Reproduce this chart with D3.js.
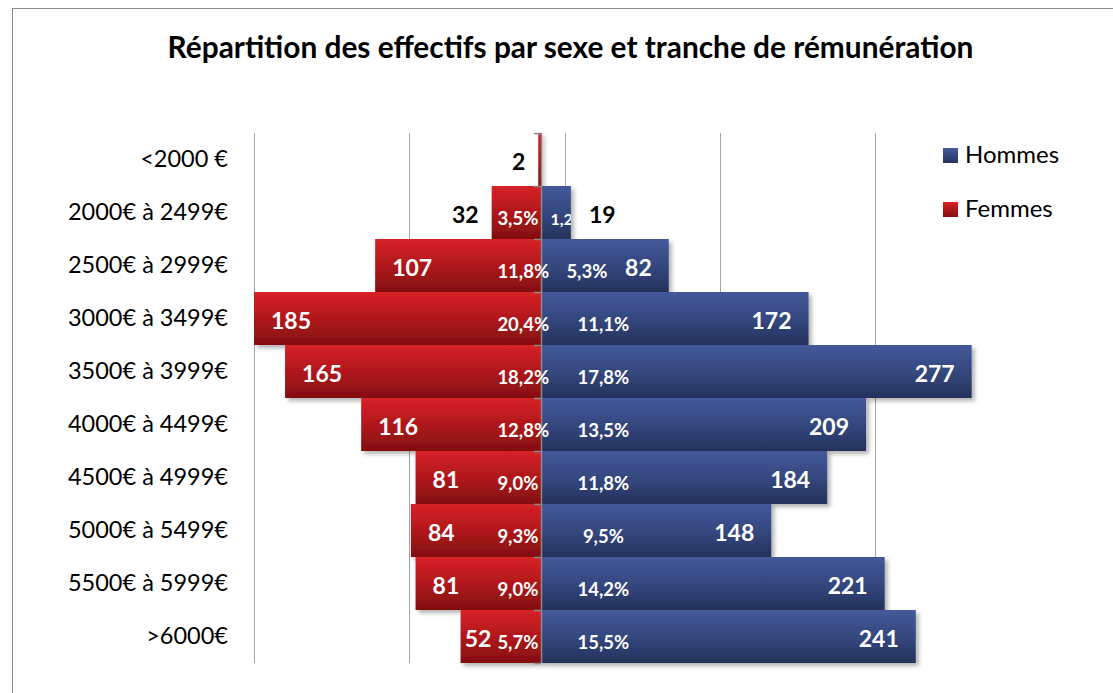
<!DOCTYPE html>
<html>
<head>
<meta charset="utf-8">
<script src="https://cdn.jsdelivr.net/npm/d3@7"></script>
<style>
  html, body { margin: 0; padding: 0; background: #fff; }
  svg { display: block; font-family: Lato, "Open Sans", sans-serif; }
</style>
</head>
<body>
<svg id="chart" width="1113" height="693"></svg>
<script>
const title = "Répartition des effectifs par sexe et tranche de rémunération";
const categories = ["<2000 €","2000€ à 2499€","2500€ à 2999€","3000€ à 3499€","3500€ à 3999€","4000€ à 4499€","4500€ à 4999€","5000€ à 5499€","5500€ à 5999€",">6000€"];
const hommes = [0, 19, 82, 172, 277, 209, 184, 148, 221, 241];
const femmes = [2, 32, 107, 185, 165, 116, 81, 84, 81, 52];
const hommesPct = [null, "1,2%", "5,3%", "11,1%", "17,8%", "13,5%", "11,8%", "9,5%", "14,2%", "15,5%"];
const femmesPct = [null, "3,5%", "11,8%", "20,4%", "18,2%", "12,8%", "9,0%", "9,3%", "9,0%", "5,7%"];
const gridTicks = [-185, -85, 15, 115, 215];
const seriesNames = ["Hommes", "Femmes"];

const svg = d3.select("#chart");
const defs = svg.append("defs");

function grad(id, stops) {
  const g = defs.append("linearGradient").attr("id", id)
    .attr("x1", 0).attr("y1", 0).attr("x2", 0).attr("y2", 1);
  stops.forEach(s => g.append("stop").attr("offset", s[0]).attr("stop-color", s[1]));
}
grad("gBlue", [[0, "#43599a"], [0.5, "#34487f"], [1, "#25325b"]]);
grad("gRed", [[0, "#d72127"], [0.5, "#b0181c"], [1, "#820f10"]]);
const f = defs.append("filter").attr("id", "shadow").attr("x", "-10%").attr("y", "-20%").attr("width", "130%").attr("height", "160%");
f.append("feDropShadow").attr("dx", 3).attr("dy", 3).attr("stdDeviation", 2)
  .attr("flood-color", "#000").attr("flood-opacity", 0.3);

// outer frame
svg.append("rect").attr("x", 12.5).attr("y", 8.5).attr("width", 1120).attr("height", 700)
  .attr("fill", "none").attr("stroke", "#8c8c8c").attr("stroke-width", 1);

// title
const t = svg.append("text").attr("x", 570.5).attr("y", 58)
  .attr("text-anchor", "middle").attr("font-weight", "bold").attr("font-size", 28)
  .attr("fill", "#000").text(title);
const tw = t.node().getComputedTextLength();
t.attr("font-size", 28 * 806 / tw);

const x = d3.scaleLinear().domain([-185, 300]).range([254, 1007.4]);
const y = d3.scaleBand().domain(categories).range([133, 663]).padding(0);
const x0 = x(0);

// gridlines
svg.append("g").selectAll("line").data(gridTicks).join("line")
  .attr("x1", d => Math.round(x(d)) + 0.5).attr("x2", d => Math.round(x(d)) + 0.5)
  .attr("y1", y.range()[0]).attr("y2", y.range()[1])
  .attr("stroke", "#a6a6a6").attr("stroke-width", 1);

const rows = categories.map((c, i) => ({c, i, h: hommes[i], f: femmes[i], hp: hommesPct[i], fp: femmesPct[i]}));

// bars
svg.append("g").attr("filter", "url(#shadow)").selectAll("rect").data(rows.filter(d => d.f > 0)).join("rect")
  .attr("x", d => x(-d.f)).attr("width", d => x0 - x(-d.f))
  .attr("y", d => y(d.c)).attr("height", y.bandwidth())
  .attr("fill", "url(#gRed)");
svg.append("g").attr("filter", "url(#shadow)").selectAll("rect").data(rows.filter(d => d.h > 0)).join("rect")
  .attr("x", x0).attr("width", d => x(d.h) - x0)
  .attr("y", d => y(d.c)).attr("height", y.bandwidth())
  .attr("fill", "url(#gBlue)");

// central axis with ticks at band boundaries
const ax = svg.append("g");
ax.append("line").attr("x1", Math.round(x0) + 0.5).attr("x2", Math.round(x0) + 0.5)
  .attr("y1", y.range()[0]).attr("y2", y.range()[1]).attr("stroke", "#8a8a8a").attr("stroke-width", 1.5);
const bounds = categories.map(c => y(c)).concat([y.range()[1]]);
ax.selectAll("line.tk").data(bounds).join("line").attr("class", "tk")
  .attr("x1", Math.round(x0) - 7).attr("x2", Math.round(x0))
  .attr("y1", d => d + 0.5).attr("y2", d => d + 0.5)
  .attr("stroke", "#8a8a8a").attr("stroke-width", 1.5);

// category labels
const yAxis = svg.append("g").attr("transform", "translate(228,0)")
  .call(d3.axisLeft(y).tickSize(0).tickPadding(0));
yAxis.select(".domain").remove();
yAxis.selectAll("text").attr("font-family", "Lato, sans-serif").attr("font-size", 23.5).attr("fill", "#000");

// clip for hommes percent labels
const cp = defs.append("clipPath").attr("id", "clipH");
cp.selectAll("rect").data(rows.filter(d => d.h > 0)).join("rect")
  .attr("x", x0).attr("width", d => x(d.h) - x0)
  .attr("y", d => y(d.c)).attr("height", y.bandwidth());

const mid = d => y(d.c) + y.bandwidth() / 2;
const INSIDE = 40;
const PCT_LEFT = x0 - 44;

// percent labels femmes
svg.append("g").selectAll("text").data(rows.filter(d => d.fp)).join("text")
  .attr("x", PCT_LEFT).attr("text-anchor", "start")
  .attr("y", d => mid(d) + 12)
  .attr("font-weight", "bold").attr("font-size", 18.5).attr("fill", "#fff")
  .text(d => d.fp);

// value labels femmes
svg.append("g").selectAll("text").data(rows.filter(d => d.f > 0)).join("text")
  .attr("text-anchor", d => d.f >= INSIDE ? "start" : "end")
  .attr("y", d => mid(d) + 10)
  .attr("font-weight", "bold").attr("font-size", 23)
  .attr("fill", d => d.f >= INSIDE ? "#fff" : "#000")
  .text(d => d.f)
  .attr("x", function(d) {
    if (d.f < INSIDE) return x(-d.f) - 13;
    const w = this.getComputedTextLength();
    let p = x(-d.f) + 17;
    if (p + w > PCT_LEFT - 6) p = Math.max(x(-d.f) + 3, PCT_LEFT - 6 - w);
    return p;
  });

// value labels hommes
svg.append("g").selectAll("text").data(rows.filter(d => d.h > 0)).join("text")
  .attr("x", d => d.h >= INSIDE ? x(d.h) - 17 : x(d.h) + 18)
  .attr("text-anchor", d => d.h >= INSIDE ? "end" : "start")
  .attr("y", d => mid(d) + 10)
  .attr("font-weight", "bold").attr("font-size", 23)
  .attr("fill", d => d.h >= INSIDE ? "#fff" : "#000")
  .text(d => d.h);

// percent labels hommes
const narrow = d => (x(d.h) - x0) < 80;
svg.append("g").attr("clip-path", "url(#clipH)").selectAll("text").data(rows.filter(d => d.hp)).join("text")
  .attr("x", d => { const w = x(d.h) - x0; return w < 80 ? x0 + 9 : (w < 150 ? x0 + 25 : x0 + 62); })
  .attr("text-anchor", d => (x(d.h) - x0) < 150 ? "start" : "middle")
  .attr("y", d => mid(d) + 12)
  .attr("font-weight", "bold").attr("font-size", d => narrow(d) ? 16 : 18.5).attr("fill", "#fff")
  .text(d => d.hp);

// legend
const leg = svg.append("g");
const legFills = ["url(#gBlue)", "url(#gRed)"];
seriesNames.forEach((n, i) => {
  const g = leg.append("g").attr("transform", `translate(943,${148 + i * 54})`);
  g.append("rect").attr("width", 15).attr("height", 15).attr("fill", legFills[i]);
  g.append("text").attr("x", 22).attr("y", 15).attr("font-size", 24).attr("fill", "#000").text(n);
});
</script>
</body>
</html>
